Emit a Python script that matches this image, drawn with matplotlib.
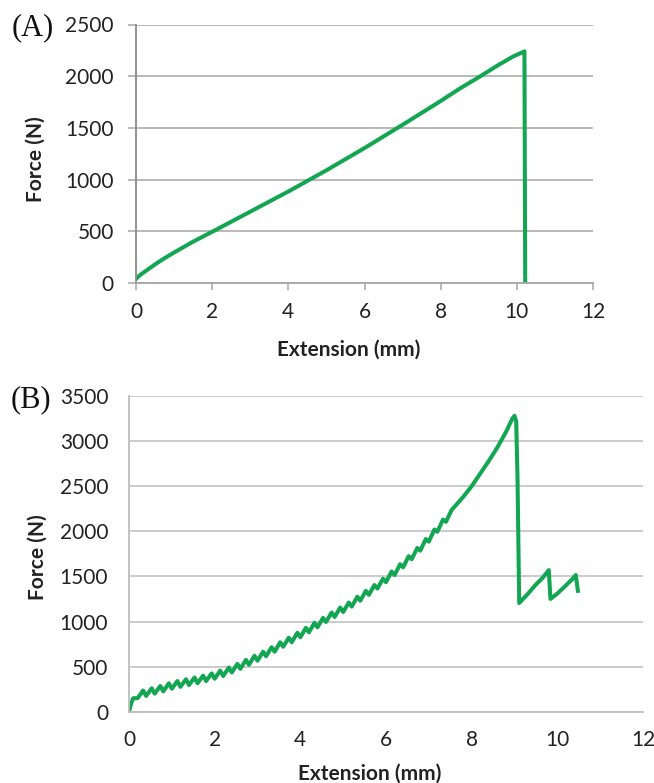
import matplotlib.pyplot as plt

plt.rcParams['font.family'] = ['Lato', 'DejaVu Sans']

# panel A: smooth test curve, then break at 10.2 mm
ext_a = [0, 0.1, 0.25, 0.5, 0.75, 1.0, 1.5, 2.0, 3.0, 4.0, 5.0, 6.0, 7.0, 8.0,
         8.5, 9.0, 9.5, 9.9, 10.2, 10.22]
force_a = [40, 75, 115, 180, 240, 295, 400, 495, 690, 885, 1090, 1305, 1530, 1760,
           1880, 1990, 2105, 2190, 2240, 0]

# panel B: saw-tooth loading curve, peak near 9 mm, two later reloads
ext_b = [0, 0.05, 0.1,
         0.2, 0.33, 0.4, 0.53, 0.6, 0.73, 0.8, 0.93, 1.0, 1.13, 1.2, 1.33,
         1.4, 1.53, 1.6, 1.73, 1.8, 1.93, 2.0, 2.13, 2.2, 2.33, 2.4, 2.53,
         2.6, 2.73, 2.8, 2.93, 3.0, 3.13, 3.2, 3.33, 3.4, 3.53, 3.6, 3.73,
         3.8, 3.93, 4.0, 4.13, 4.2, 4.33, 4.4, 4.53, 4.6, 4.73, 4.8, 4.93,
         5.0, 5.13, 5.2, 5.33, 5.4, 5.53, 5.6, 5.73, 5.8, 5.93, 6.0, 6.13,
         6.2, 6.33, 6.4, 6.53, 6.6, 6.73, 6.8, 6.93, 7.0, 7.13, 7.2, 7.33,
         7.4, 7.53, 7.8, 8.0, 8.2, 8.4, 8.6, 8.8, 8.95, 9.0, 9.04, 9.07, 9.11,
         9.3, 9.5, 9.65, 9.8, 9.84, 10.0, 10.2, 10.35, 10.43, 10.48]
force_b = [0, 90, 150,
           150, 235, 175, 260, 200, 285, 225, 315, 255, 340, 275, 360,
           295, 380, 315, 400, 340, 425, 365, 455, 395, 490, 435, 530,
           475, 575, 520, 620, 565, 665, 615, 715, 665, 770, 720, 820,
           770, 875, 825, 930, 880, 985, 935, 1040, 995, 1100, 1050, 1155,
           1105, 1210, 1165, 1275, 1230, 1340, 1295, 1405, 1365, 1475, 1435, 1555,
           1515, 1635, 1600, 1725, 1690, 1815, 1785, 1915, 1885, 2020, 1995, 2130,
           2105, 2235, 2380, 2500, 2640, 2780, 2930, 3100, 3250, 3280, 3220, 2600, 1205,
           1300, 1410, 1480, 1570, 1250, 1310, 1400, 1470, 1515, 1340]

xticks = [0, 2, 4, 6, 8, 10, 12]
yticks_a = [0, 500, 1000, 1500, 2000, 2500]
yticks_b = [0, 500, 1000, 1500, 2000, 2500, 3000, 3500]

green = '#13a652'
W, H = 654, 783

fig = plt.figure(figsize=(W / 100, H / 100), dpi=100)


def style_axes(ax, yticks, grid_col, spine_col, ytick_len, xtick_len, ypad, xpad):
    ax.set_xlim(0, 12)
    ax.set_ylim(0, yticks[-1])
    ax.set_xticks(xticks)
    ax.set_yticks(yticks)
    ax.grid(axis='y', color=grid_col, lw=1.1)
    ax.set_axisbelow(True)
    for s in ['top', 'right']:
        ax.spines[s].set_visible(False)
    ax.spines['left'].set_color(spine_col)
    ax.spines['bottom'].set_color(grid_col)
    ax.spines['left'].set_linewidth(1.3)
    ax.spines['bottom'].set_linewidth(1.3)
    ax.tick_params(axis='y', length=ytick_len, color=grid_col, width=1.1,
                   pad=ypad, labelsize=15, labelcolor='#222222')
    ax.tick_params(axis='x', length=xtick_len, color=grid_col, width=1.1,
                   pad=xpad, labelsize=15, labelcolor='#222222')


# (A)
ax1 = fig.add_axes([136 / W, 1 - 283 / H, (593 - 136) / W, (283 - 24.5) / H])
ax1.plot(ext_a, force_a, color=green, lw=2.9, solid_joinstyle='round')
style_axes(ax1, yticks_a, '#a6a6a6', '#8a8a8a', 6, 5, 10, 9)

# (B)
ax2 = fig.add_axes([129 / W, 1 - 711.7 / H, (643 - 129) / W, (711.7 - 396) / H])
ax2.plot(ext_b, force_b, color=green, lw=2.9, solid_joinstyle='round')
style_axes(ax2, yticks_b, '#bdbdbd', '#bdbdbd', 0, 0, 15, 13)

lab = dict(fontsize=15, fontweight='bold', color='#222222', ha='center', va='center')
fig.text(349 / W, 1 - 350 / H, 'Extension (mm)', **lab)
fig.text(370 / W, 1 - 774 / H, 'Extension (mm)', **lab)
fig.text(36 / W, 1 - 159 / H, 'Force (N)', rotation=90, **lab)
fig.text(38 / W, 1 - 557 / H, 'Force (N)', rotation=90, **lab)

pan = dict(fontsize=22, family='Liberation Serif', color='#111111', ha='left', va='center')
fig.text(12 / W, 1 - 28 / H, '(A)', **pan)
fig.text(11 / W, 1 - 400 / H, '(B)', **pan)

fig.savefig('out.png', dpi=100)
